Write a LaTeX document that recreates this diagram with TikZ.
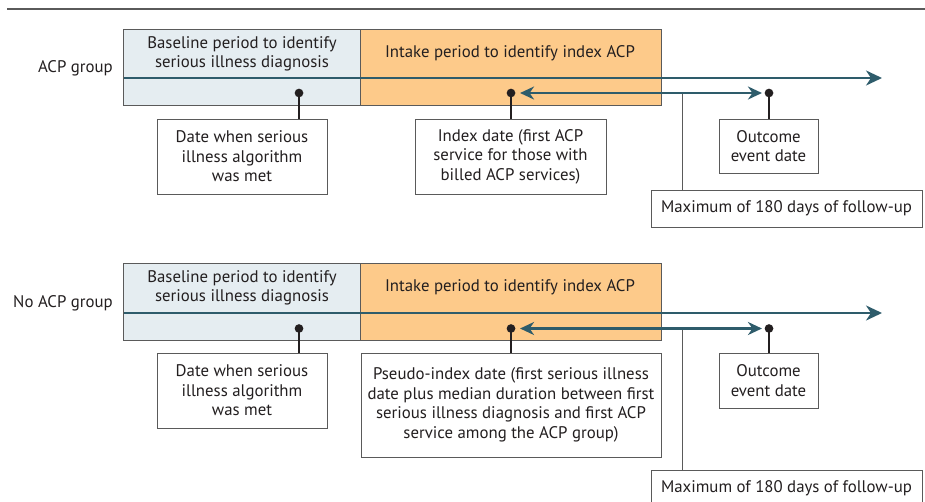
\documentclass[tikz,border=0pt]{standalone}
\usepackage{fontspec}
\setmainfont{PT Sans}
\usetikzlibrary{arrows.meta}
\definecolor{tlcol}{HTML}{2E5C6B}
\definecolor{boxgray}{HTML}{5A5A5A}
\definecolor{bluefill}{HTML}{E5EDF1}
\definecolor{orangefill}{HTML}{FDCA8A}
\definecolor{dotcol}{HTML}{231F20}
\definecolor{textcol}{HTML}{231F20}
\begin{document}
\begin{tikzpicture}[x=1pt,y=-1pt,
  font=\fontsize{16.8}{19.5}\selectfont, text=textcol,
  period/.style={draw=boxgray, line width=1pt, inner sep=0pt},
  info/.style={draw=boxgray, line width=0.9pt, fill=white, align=center, inner sep=0pt},
  txt/.style={align=center, inner sep=0pt},
  dotnode/.style={circle, fill=dotcol, inner sep=0pt, minimum size=8.7pt},
  stem/.style={draw=dotcol, line width=2pt},
  tline/.style={draw=tlcol, line width=2.4pt, -{Stealth[length=16pt,width=15pt,inset=5pt]}},
  dbl/.style={draw=tlcol, line width=2.4pt, {Stealth[length=14pt,width=13pt,inset=4.5pt]}-{Stealth[length=14pt,width=13pt,inset=4.5pt]}},
  thinline/.style={draw=boxgray, line width=1pt},
  rule/.style={draw=boxgray, line width=1.3pt}
]
\useasboundingbox (0,0) rectangle (925,501);

% top rule
\coordinate (r1) at (7,9);
\coordinate (r2) at (925,9);
\draw[rule] (r1) -- (r2);

% ================= ACP group =================
\node[period, fill=bluefill, minimum width=237pt, minimum height=76pt] (bl1) at (241.5,67) {};
\node[period, fill=orangefill, minimum width=301pt, minimum height=76pt] (in1) at (510.5,67) {};
\node[txt] (blt1) at (242,54) {Baseline period to identify\\serious illness diagnosis};
\node[txt] (int1) at (510,53) {Intake period to identify index ACP};
\node[txt, anchor=east] (g1) at (113,68) {ACP group};
\coordinate (ts1) at (124,78);
\coordinate (te1) at (882,78);
\draw[tline] (ts1) -- (te1);

\node[dotnode] (d1) at (299,93) {};
\node[info, minimum width=170pt, minimum height=75pt] (db1) at (242,156.5) {Date when serious\\illness algorithm\\was met};
\draw[stem] (d1.center) -- (d1.center |- db1.north);

\node[info, minimum width=191pt, minimum height=75pt] (ib1) at (510.5,156.5) {Index date (first ACP\\service for those with\\billed ACP services)};
\node[info, minimum width=99pt, minimum height=54pt] (ob1) at (768.5,146) {Outcome\\event date};
\node[info, minimum width=271pt, minimum height=37pt] (mx1) at (786.5,208.5) {Maximum of 180 days of follow-up};

\coordinate (m1) at (682,93);
\draw[thinline] (m1) -- (m1 |- mx1.north);

\node[dotnode] (i1) at (511,93) {};
\node[dotnode] (o1) at (769,93) {};
\draw[stem] (i1.center) -- (i1.center |- ib1.north);
\draw[stem] (o1.center) -- (o1.center |- ob1.north);
\draw[dbl] ([xshift=4.5pt]i1.east) -- ([xshift=-2.5pt]o1.west);

% ================= No ACP group =================
\node[period, fill=bluefill, minimum width=237pt, minimum height=77pt] (bl2) at (241.5,301.5) {};
\node[period, fill=orangefill, minimum width=301pt, minimum height=77pt] (in2) at (510.5,301.5) {};
\node[txt] (blt2) at (242,288) {Baseline period to identify\\serious illness diagnosis};
\node[txt] (int2) at (510,287) {Intake period to identify index ACP};
\node[txt, anchor=east] (g2) at (113,303) {No ACP group};
\coordinate (ts2) at (124,313);
\coordinate (te2) at (882,313);
\draw[tline] (ts2) -- (te2);

\node[dotnode] (d2) at (299,328.5) {};
\node[info, minimum width=170pt, minimum height=75pt] (db2) at (242,390.5) {Date when serious\\illness algorithm\\was met};
\draw[stem] (d2.center) -- (d2.center |- db2.north);

\node[info, minimum width=300pt, minimum height=104pt] (pb2) at (511,405) {Pseudo-index date (first serious illness\\date plus median duration between first\\serious illness diagnosis and first ACP\\service among the ACP group)};
\node[info, minimum width=99pt, minimum height=55pt] (ob2) at (768.5,380.5) {Outcome\\event date};
\node[info, minimum width=271pt, minimum height=37pt] (mx2) at (786.5,488.5) {Maximum of 180 days of follow-up};

\coordinate (m2) at (682,328.5);
\draw[thinline] (m2) -- (m2 |- mx2.north);

\node[dotnode] (i2) at (511,328.5) {};
\node[dotnode] (o2) at (769,328.5) {};
\draw[stem] (i2.center) -- (i2.center |- pb2.north);
\draw[stem] (o2.center) -- (o2.center |- ob2.north);
\draw[dbl] ([xshift=4.5pt]i2.east) -- ([xshift=-2.5pt]o2.west);
\end{tikzpicture}
\end{document}
